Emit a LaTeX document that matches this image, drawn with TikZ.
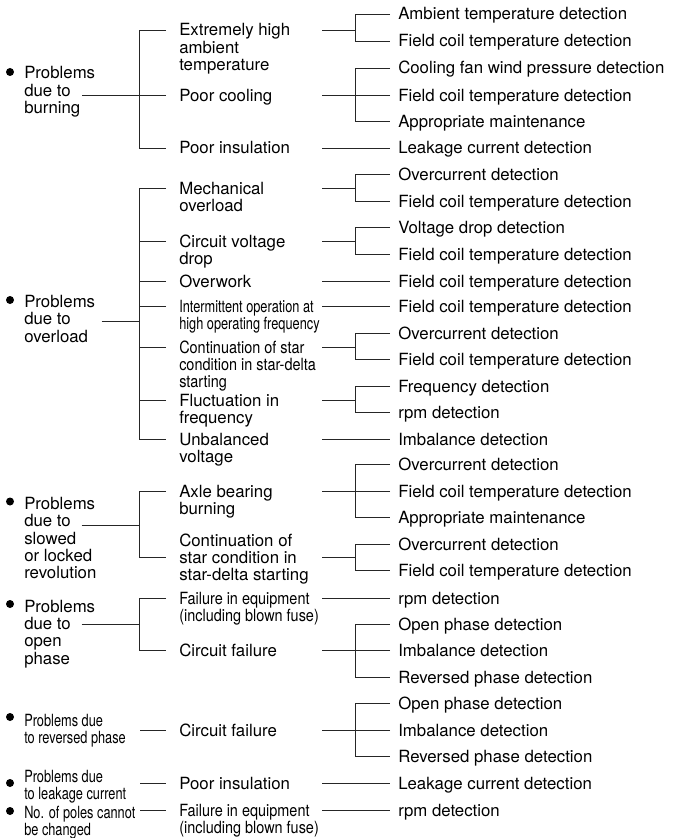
\documentclass[tikz,border=0pt]{standalone}
\usepackage{fontspec}
\setmainfont{TeX Gyre Heros}
\newfontfamily\narrowfont[FakeStretch=0.76]{TeX Gyre Heros}
\newfontfamily\semifont[FakeStretch=0.86]{TeX Gyre Heros}

\tikzset{
	link/.style={draw=black!85, line width=0.6pt},
	dot/.style={circle, fill=black, inner sep=0pt, minimum size=6pt},
	cause/.style={anchor=west, align=left, inner sep=0pt, text height=9pt, text depth=0pt},
	fault/.style={anchor=west, align=left, inner ysep=0pt, inner xsep=9.75pt, text height=9pt, text depth=0pt},
	check/.style={anchor=west, inner ysep=0pt, inner xsep=6pt, text height=9pt, text depth=0pt},
	% west anchor on the first line of a block of rows
	tworow/.style={text height=35pt},
	threerow/.style={text height=61pt},
	fourrow/.style={text height=87pt},
	fiverow/.style={text height=113pt}
}

\begin{document}
\fontsize{12.6}{13}\selectfont
\begin{tikzpicture}[x=0.75pt, y=-0.75pt]
	\useasboundingbox (0,0) rectangle (676,838);
	\coordinate (bar2) at (139,0);
	\coordinate (out2) at (322,0);
	\coordinate (bar3) at (355,0);

	% causes
	\node[cause, threerow] (burn) at (24,73) {Problems\\due to\\burning};
	\node[cause, threerow] (over) at (24,301.5) {Problems\\due to\\overload};
	\node[cause, fiverow] (slow) at (24,503.5) {Problems\\due to\\slowed\\or locked\\revolution};
	\node[cause, fourrow] (open) at (24,606) {Problems\\due to\\open\\phase};
	\node[cause, tworow, font=\narrowfont] (rev) at (24,720) {Problems due\\to reversed phase};
	\node[cause, tworow, font=\narrowfont] (leak) at (24,776.5) {Problems due\\to leakage current};
	\node[cause, tworow, font=\narrowfont] (poles) at (24,812.5) {No. of poles cannot\\be changed};
	\foreach \n/\y in {burn/72, over/300, slow/501.5, open/604, rev/717, leak/783, poles/811}
		\node[dot] (\n-dot) at (10,\y) {};

	\coordinate (burn-o) at (82,95.5);
	\coordinate (over-o) at (101.5,321);
	\coordinate (slow-o) at (81.5,525);
	\coordinate (open-o) at (81.5,624.5);
	\coordinate (rev-o) at (140,730.5);
	\coordinate (leak-o) at (140,783);
	\coordinate (poles-o) at (140,810.5);

	% faults
	\node[fault, threerow] (b-ext) at (166,30) {Extremely high\\ambient\\temperature};
	\node[fault] (b-cool) at (166,95.5) {Poor cooling};
	\node[fault] (b-ins) at (166,148) {Poor insulation};

	\node[fault, tworow] (o-mech) at (166,188) {Mechanical\\overload};
	\node[fault, tworow] (o-volt) at (166,241) {Circuit voltage\\drop};
	\node[fault] (o-work) at (166,281) {Overwork};
	\node[fault, tworow, font=\narrowfont] (o-int) at (166,306) {Intermittent operation at\\high operating frequency};
	\node[fault, threerow, font=\semifont] (o-cont) at (166,347) {Continuation of star\\condition in star-delta\\starting};
	\node[fault, tworow] (o-fluc) at (166,400) {Fluctuation in\\frequency};
	\node[fault, tworow] (o-unb) at (166,439) {Unbalanced\\voltage};

	\node[fault, tworow] (s-axle) at (166,491.5) {Axle bearing\\burning};
	\node[fault, tworow] (s-cont) at (166,557.5) {Continuation of\\star condition in\\star-delta starting};

	\node[fault, tworow, font=\semifont] (p-fail) at (166,598.5) {Failure in equipment\\(including blown fuse)};
	\node[fault] (p-circ) at (166,650.5) {Circuit failure};
	\node[fault] (r-circ) at (166,730.5) {Circuit failure};
	\node[fault] (l-ins) at (166,783) {Poor insulation};
	\node[fault, tworow, font=\semifont] (n-fail) at (166,810.5) {Failure in equipment\\(including blown fuse)};

	% detections
	\foreach \y/\t [count=\i] in {
		14/Ambient temperature detection,
		41/Field coil temperature detection,
		68/Cooling fan wind pressure detection,
		95.5/Field coil temperature detection,
		121.5/Appropriate maintenance,
		148/Leakage current detection,
		174.5/Overcurrent detection,
		201/Field coil temperature detection,
		227/Voltage drop detection,
		254/Field coil temperature detection,
		281/Field coil temperature detection,
		306/Field coil temperature detection,
		333.5/Overcurrent detection,
		359.5/Field coil temperature detection,
		386/Frequency detection,
		412/rpm detection,
		439/Imbalance detection,
		464/Overcurrent detection,
		491.5/Field coil temperature detection,
		517/Appropriate maintenance,
		544.5/Overcurrent detection,
		570.5/Field coil temperature detection,
		598.5/rpm detection,
		624.5/Open phase detection,
		650.5/Imbalance detection,
		677/Reversed phase detection,
		703.5/Open phase detection,
		730.5/Imbalance detection,
		756/Reversed phase detection,
		783/Leakage current detection,
		810.5/rpm detection}
		\node[check] (d\i) at (390,\y) {\t};

	% causes to faults
	\foreach \c/\f/\l in {burn/b-ext/b-ins, over/o-mech/o-unb, slow/s-axle/s-cont, open/p-fail/p-circ}
		\draw[link] (\c-o) -- (\c-o -| bar2)
			(\f.west) -- (\f.west -| bar2) -- (\l.west -| bar2) -- (\l.west);
	\foreach \m in {b-cool, o-volt, o-work, o-int, o-cont, o-fluc}
		\draw[link] (\m.west) -- (\m.west -| bar2);
	\foreach \c/\n in {rev/r-circ, leak/l-ins, poles/n-fail}
		\draw[link] (\c-o) -- (\n.west);

	% faults to detections
	\foreach \a/\b in {b-ins/d6, o-work/d11, o-int/d12, o-unb/d17, p-fail/d23, l-ins/d30, n-fail/d31}
		\draw[link] (\a.west -| out2) -- (\b.west);
	\foreach \a/\f/\l in {b-ext/1/2, b-cool/3/5, o-mech/7/8, o-volt/9/10, o-cont/13/14, o-fluc/15/16, s-axle/18/20, s-cont/21/22, p-circ/24/26, r-circ/27/29}
		\draw[link] (\a.west -| out2) -- (\a.west -| bar3)
			(d\f.west) -- (d\f.west -| bar3) -- (d\l.west -| bar3) -- (d\l.west);
	\foreach \m in {4, 19, 25, 28}
		\draw[link] (d\m.west) -- (d\m.west -| bar3);
\end{tikzpicture}
\end{document}
